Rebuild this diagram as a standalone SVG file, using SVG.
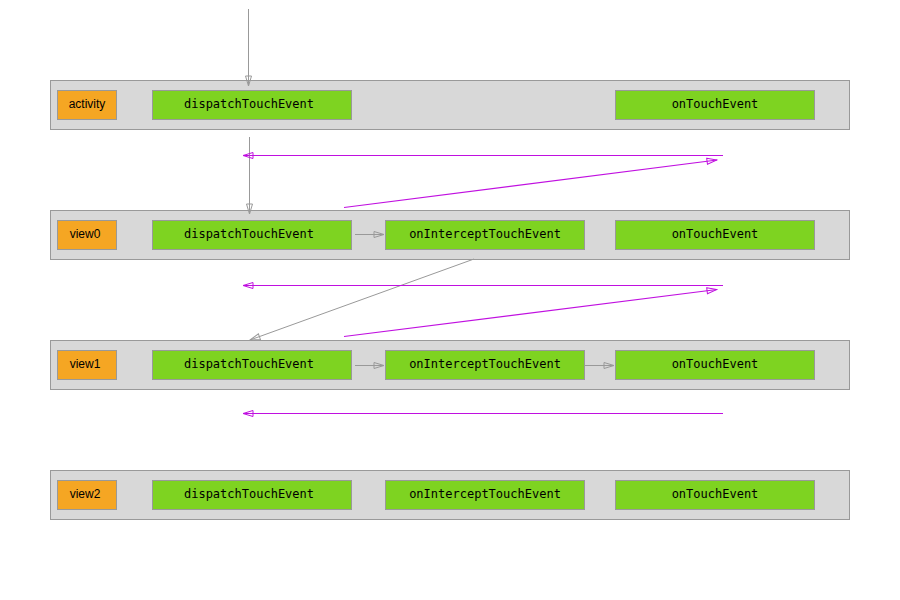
<svg xmlns="http://www.w3.org/2000/svg" width="900" height="600" viewBox="0 0 900 600">
<style>
.lane{fill:#d8d8d8;stroke:#999;stroke-width:1}
.lbl{fill:#f5a623;stroke:#999;stroke-width:1}
.fn{fill:#7ed321;stroke:#999;stroke-width:1}
.t{font-family:"Liberation Sans",Arial,sans-serif;font-size:12px;fill:#000;text-anchor:middle}
.m{font-family:"DejaVu Sans Mono","Liberation Mono",monospace;font-size:12px;fill:#000;text-anchor:middle}
.g{stroke:#999;stroke-width:1;fill:none;marker-end:url(#ag)}
.p{stroke:#c010e0;stroke-width:1.2;fill:none;marker-end:url(#ap)}
</style>
<defs>
<marker id="ag" viewBox="0 0 12 8" refX="11" refY="4" markerWidth="12" markerHeight="8" markerUnits="userSpaceOnUse" orient="auto">
<path d="M1,1 L11,4 L1,7 Z" fill="none" stroke="#999" stroke-width="1"/>
</marker>
<marker id="ap" viewBox="0 0 12 8" refX="11" refY="4" markerWidth="12" markerHeight="8" markerUnits="userSpaceOnUse" orient="auto">
<path d="M1,1 L11,4 L1,7 Z" fill="none" stroke="#c010e0" stroke-width="1"/>
</marker>
</defs>
<rect width="900" height="600" fill="#fff"/>
<g id="activity">
<rect class="lane" x="50.5" y="80.5" width="799" height="49"/>
<rect class="lbl" x="57.5" y="90.5" width="59" height="29"/><text class="t" x="87" y="108">activity</text>
<rect class="fn" x="152.5" y="90.5" width="199" height="29"/><text class="m" x="249" y="108">dispatchTouchEvent</text>
<rect class="fn" x="615.5" y="90.5" width="199" height="29"/><text class="m" x="715" y="108">onTouchEvent</text>
</g>
<g id="view0">
<rect class="lane" x="50.5" y="210.5" width="799" height="49"/>
<rect class="lbl" x="57.5" y="220.5" width="59" height="29"/><text class="t" x="85" y="238">view0</text>
<rect class="fn" x="152.5" y="220.5" width="199" height="29"/><text class="m" x="249" y="238">dispatchTouchEvent</text>
<rect class="fn" x="385.5" y="220.5" width="199" height="29"/><text class="m" x="485" y="238">onInterceptTouchEvent</text>
<rect class="fn" x="615.5" y="220.5" width="199" height="29"/><text class="m" x="715" y="238">onTouchEvent</text>
</g>
<g id="view1">
<rect class="lane" x="50.5" y="340.5" width="799" height="49"/>
<rect class="lbl" x="57.5" y="350.5" width="59" height="29"/><text class="t" x="85" y="368">view1</text>
<rect class="fn" x="152.5" y="350.5" width="199" height="29"/><text class="m" x="249" y="368">dispatchTouchEvent</text>
<rect class="fn" x="385.5" y="350.5" width="199" height="29"/><text class="m" x="485" y="368">onInterceptTouchEvent</text>
<rect class="fn" x="615.5" y="350.5" width="199" height="29"/><text class="m" x="715" y="368">onTouchEvent</text>
</g>
<g id="view2">
<rect class="lane" x="50.5" y="470.5" width="799" height="49"/>
<rect class="lbl" x="57.5" y="480.5" width="59" height="29"/><text class="t" x="85" y="498">view2</text>
<rect class="fn" x="152.5" y="480.5" width="199" height="29"/><text class="m" x="249" y="498">dispatchTouchEvent</text>
<rect class="fn" x="385.5" y="480.5" width="199" height="29"/><text class="m" x="485" y="498">onInterceptTouchEvent</text>
<rect class="fn" x="615.5" y="480.5" width="199" height="29"/><text class="m" x="715" y="498">onTouchEvent</text>
</g>
<g id="connectors">
<line class="g" x1="248.5" y1="9" x2="248.5" y2="86"/>
<line class="g" x1="249.5" y1="137" x2="249.5" y2="214"/>
<line class="p" x1="723" y1="155.5" x2="243" y2="155.5"/>
<line class="p" x1="344" y1="207.5" x2="717" y2="160"/>
<line class="g" x1="355" y1="234.5" x2="384" y2="234.5"/>
<line class="g" x1="474" y1="259" x2="250" y2="340"/>
<line class="p" x1="723" y1="285.5" x2="243" y2="285.5"/>
<line class="p" x1="344" y1="336.5" x2="717" y2="289.5"/>
<line class="g" x1="355" y1="365.5" x2="384" y2="365.5"/>
<line class="g" x1="585" y1="365.5" x2="614" y2="365.5"/>
<line class="p" x1="723" y1="413.5" x2="243" y2="413.5"/>
</g>
</svg>
